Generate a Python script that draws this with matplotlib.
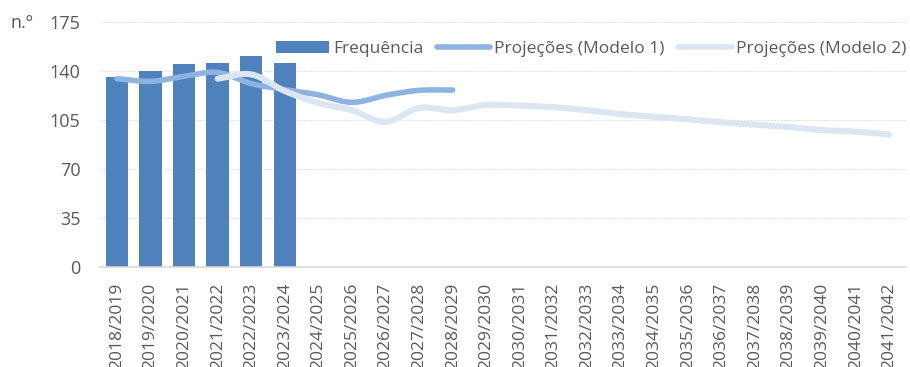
import numpy as np
import matplotlib
matplotlib.use("Agg")
import matplotlib.pyplot as plt
from matplotlib.patches import Patch
from matplotlib.lines import Line2D

plt.rcParams["font.family"] = ["Open Sans", "DejaVu Sans"]

anos = [f"{a}/{a + 1}" for a in range(2018, 2042)]

# frequência observada (2018/2019 a 2023/2024)
frequencia = [136, 140, 145, 146, 151, 146]

# projeções do modelo 1 (2018/2019 a 2028/2029)
modelo1 = [134.5, 132.6, 136.2, 139.0, 131.0, 126.7, 123.0, 117.6, 122.6, 126.2, 126.4]

# projeções do modelo 2 (2021/2022 a 2041/2042)
modelo2_inicio = 3
modelo2 = [134.5, 137.6, 125.7, 117.2, 112.0, 103.6, 113.6, 112.0, 115.8, 115.3,
           114.2, 112.0, 109.2, 107.4, 105.5, 103.3, 101.7, 100.0, 97.8, 96.7, 94.6]

COR_BARRA = "#4F81BD"
COR_M1 = "#8DB3E2"
COR_M2 = "#DCE6F2"
COR_TEXTO = "#595959"
FONTE = 12.5


def suavizar(x, y, passos=20):
    # curva Catmull-Rom, semelhante às linhas suavizadas do Excel
    x = np.asarray(x, float)
    y = np.asarray(y, float)
    px = np.concatenate([[2 * x[0] - x[1]], x, [2 * x[-1] - x[-2]]])
    py = np.concatenate([[2 * y[0] - y[1]], y, [2 * y[-1] - y[-2]]])
    xs, ys = [], []
    t = np.linspace(0, 1, passos, endpoint=False)
    for i in range(1, len(px) - 2):
        p0, p1, p2, p3 = px[i - 1], px[i], px[i + 1], px[i + 2]
        q0, q1, q2, q3 = py[i - 1], py[i], py[i + 1], py[i + 2]
        xs.append(0.5 * (2 * p1 + (-p0 + p2) * t + (2 * p0 - 5 * p1 + 4 * p2 - p3) * t ** 2
                         + (-p0 + 3 * p1 - 3 * p2 + p3) * t ** 3))
        ys.append(0.5 * (2 * q1 + (-q0 + q2) * t + (2 * q0 - 5 * q1 + 4 * q2 - q3) * t ** 2
                         + (-q0 + 3 * q1 - 3 * q2 + q3) * t ** 3))
    xs.append([x[-1]])
    ys.append([y[-1]])
    return np.concatenate(xs), np.concatenate(ys)


fig = plt.figure(figsize=(9.10, 3.67), dpi=100)
ax = fig.add_axes([0.11, 0.2725, 0.8856, 0.6675])

xpos = np.arange(len(anos))
ax.bar(xpos[:len(frequencia)], frequencia, width=0.67, color=COR_BARRA, zorder=2)

x1, y1 = suavizar(xpos[:len(modelo1)], modelo1)
ax.plot(x1, y1, color=COR_M1, lw=4, solid_capstyle="round", zorder=3)
x2, y2 = suavizar(xpos[modelo2_inicio:modelo2_inicio + len(modelo2)], modelo2)
ax.plot(x2, y2, color=COR_M2, lw=4.4, solid_capstyle="round", zorder=4)

ax.set_xlim(-0.5, len(anos) - 0.5)
ax.set_ylim(0, 175)
ax.set_yticks([0, 35, 70, 105, 140, 175])
ax.set_xticks(xpos)
ax.set_xticklabels(anos, rotation=90)
ax.tick_params(axis="both", length=0, labelcolor=COR_TEXTO)
ax.tick_params(axis="y", pad=14, labelsize=13)
ax.tick_params(axis="x", pad=11, labelsize=FONTE)

ax.grid(axis="y", color="#E3E3E3", lw=0.8, ls=(0, (2, 1)), zorder=0)
ax.set_axisbelow(True)
for lado in ["top", "right", "left"]:
    ax.spines[lado].set_visible(False)
ax.spines["bottom"].set_color("#D9D9D9")
ax.spines["bottom"].set_linewidth(1.2)

fig.text(0.011, 0.937, "n.º", fontsize=13, color=COR_TEXTO, va="center")

alcas = [
    Patch(facecolor=COR_BARRA, edgecolor="none"),
    Line2D([], [], color=COR_M1, lw=4, solid_capstyle="round"),
    Line2D([], [], color=COR_M2, lw=4, solid_capstyle="round"),
]
ax.legend(alcas, ["Frequência", "Projeções (Modelo 1)", "Projeções (Modelo 2)"],
          ncol=3, frameon=False, loc="center right", bbox_to_anchor=(1.0, 0.89),
          fontsize=FONTE, labelcolor=COR_TEXTO, handlelength=3.1, handleheight=0.65,
          handletextpad=0.23, columnspacing=0.75, borderaxespad=0, borderpad=0)

fig.savefig("out.png", dpi=100)
